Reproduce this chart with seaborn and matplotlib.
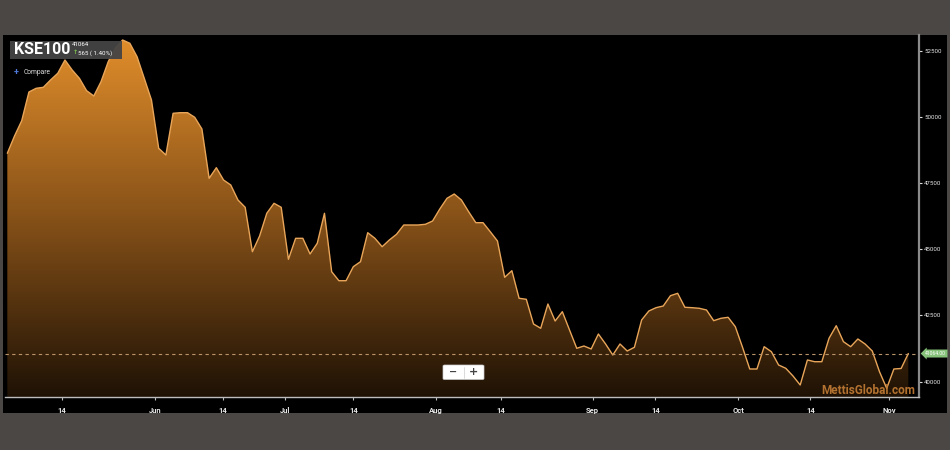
import numpy as np
import pandas as pd
import matplotlib
matplotlib.use("Agg")
import matplotlib.pyplot as plt
import seaborn as sns
from matplotlib.patches import Rectangle, FancyBboxPatch
from matplotlib.colors import LinearSegmentedColormap
import matplotlib.transforms as mtransforms

# ---- data (KSE100 daily closes, trading-day ordinal axis) ----
closes = [48626, 49279, 49857, 50941, 51080, 51118, 51394, 51647, 52149, 51771,
          51458, 50990, 50790, 51330, 52085, 52602, 52904, 52780, 52274, 51458,
          50638, 48814, 48561, 50136, 50159, 50159, 49985, 49543, 47681, 48082,
          47617, 47428, 46862, 46586, 44909, 45502, 46360, 46737, 46586, 44622,
          45415, 45415, 44823, 45227, 46360, 44154, 43814, 43814, 44343, 44532,
          45627, 45415, 45098, 45351, 45567, 45918, 45918, 45918, 45944, 46069,
          46522, 46926, 47088, 46862, 46420, 46005, 46005, 45665, 45314, 43943,
          44192, 43150, 43112, 42179, 42017, 42934, 42292, 42644, 41952, 41261,
          41348, 41235, 41801, 41424, 41008, 41424, 41159, 41299, 42330, 42670,
          42795, 42859, 43248, 43338, 42810, 42795, 42772, 42708, 42304, 42394,
          42432, 42077, 41299, 40480, 40480, 41322, 41133, 40631, 40506, 40215,
          39875, 40820, 40755, 40755, 41639, 42115, 41511, 41322, 41613, 41424,
          41159, 40378, 39751, 40480, 40499, 41064]
tick_pos = [7.6, 20.5, 29.9, 38.5, 48.0, 59.5, 68.5, 81.2, 89.9, 101.4, 111.4, 122.3]
tick_labels = ["14", "Jun", "14", "Jul", "14", "Aug", "14", "Sep", "14", "Oct", "14", "Nov"]
y_ticks = [40000, 42500, 45000, 47500, 50000, 52500]
last_value = 41064
change_text = "565 ( 1.40%)"
index_name = "KSE100"

df = pd.DataFrame({"idx": np.arange(len(closes)), "close": closes})

sns.set_theme(style="dark")
plt.rcParams['font.family'] = ['Roboto', 'DejaVu Sans']

W, H = 950, 450
fig = plt.figure(figsize=(W / 100, H / 100), dpi=100)
fig.patch.set_facecolor("#4a4744")

def fx(x):
    return x / W

def fy(y):
    return 1 - y / H

# black panel
fig.add_artist(Rectangle((fx(3), fy(413)), fx(947) - fx(3), fy(35) - fy(413),
                         transform=fig.transFigure, facecolor="black",
                         edgecolor="none", zorder=0))

ax = fig.add_axes([fx(5), fy(397), fx(918.7) - fx(5), fy(35) - fy(397)])
ax.set_facecolor("black")
xlim = (-0.32, 126.44)
ylim = (39422, 53093)
ax.set_xlim(*xlim)
ax.set_ylim(*ylim)

# gradient area
cmap = LinearSegmentedColormap.from_list(
    "kse", [(0.0, (0.12, 0.07, 0.02)), (0.5, (0.53, 0.32, 0.095)),
            (1.0, (0.89, 0.56, 0.17))])
grad = np.linspace(0, 1, 256).reshape(-1, 1)
im = ax.imshow(grad, extent=[xlim[0], xlim[1], ylim[0], ylim[1]], origin="lower",
               aspect="auto", cmap=cmap, zorder=1)
poly = ax.fill_between(df["idx"], df["close"], ylim[0], facecolor="none",
                       edgecolor="none")
im.set_clip_path(poly.get_paths()[0], transform=ax.transData)

sns.lineplot(data=df, x="idx", y="close", color="#e9a65a", lw=1.0, ax=ax, zorder=3)

# current value dashed line
ax.axhline(last_value, color="#b9936a", lw=0.8, ls=(0, (3, 3)), zorder=4)

ax.set_xlabel("")
ax.set_ylabel("")
ax.grid(False)
ax.set_xticks(tick_pos)
ax.set_xticklabels(tick_labels, fontsize=5.5, fontweight="bold", color="#e8e8e8")
ax.yaxis.tick_right()
ax.set_yticks(y_ticks)
ax.set_yticklabels([str(v) for v in y_ticks], fontsize=4.4, color="#e6e6e6")
ax.tick_params(axis="x", length=2.5, width=0.8, color="#bbbbbb", pad=5, bottom=True)
ax.tick_params(axis="y", length=2.5, width=0.8, color="#dddddd", pad=1.5, right=True, left=False)
for s in ["top", "left"]:
    ax.spines[s].set_visible(False)
ax.spines["right"].set_color("#8a8a8a")
ax.spines["right"].set_linewidth(1.6)
ax.spines["bottom"].set_color("#bdbdbd")
ax.spines["bottom"].set_linewidth(1.0)

# current value tag
trans = mtransforms.blended_transform_factory(ax.transAxes, ax.transData)
ax.text(1.007, last_value, f"{last_value:.2f}", transform=trans, fontsize=3.6,
        color="white", va="center", ha="left", clip_on=False, zorder=6,
        bbox=dict(boxstyle="larrow,pad=0.3", facecolor="#86c27a",
                  edgecolor="none"))

# title box
fig.add_artist(Rectangle((fx(9.5), fy(59)), fx(121.5) - fx(9.5), fy(41) - fy(59),
                         transform=fig.transFigure, facecolor="#444444",
                         edgecolor="none", alpha=0.95, zorder=8))
fig.text(fx(14), fy(50), index_name, fontsize=11.5, fontweight="bold",
         color="white", va="center", ha="left", zorder=9)
fig.text(fx(71.5), fy(44.5), f"{last_value}", fontsize=4.4, color="white",
         va="center", ha="left", zorder=9)
fig.text(fx(72.5), fy(53), "\u2191", fontsize=4.6, color="#7cc04f",
         fontweight="bold", va="center", ha="left", zorder=9,
         family=["DejaVu Sans"])
fig.text(fx(77.5), fy(53), change_text, fontsize=4.4, color="white",
         va="center", ha="left", zorder=9)
fig.text(fx(13.5), fy(72.5), "+", fontsize=6.5, color="#4f78d8",
         fontweight="bold", va="center", ha="left", zorder=9)
fig.text(fx(24), fy(72.5), "Compare", fontsize=4.8, color="#dddddd",
         va="center", ha="left", zorder=9)

# zoom buttons
fig.add_artist(FancyBboxPatch((fx(443), fy(379.5)), fx(484) - fx(443), fy(365) - fy(379.5),
                              boxstyle="round,pad=0,rounding_size=0.002",
                              transform=fig.transFigure, facecolor="white",
                              edgecolor="#cccccc", lw=0.5, zorder=8))
fig.add_artist(plt.Line2D([fx(464), fx(464)], [fy(367), fy(377.5)],
                          transform=fig.transFigure, color="#cccccc", lw=0.5, zorder=9))
fig.text(fx(453.5), fy(372), "\u2212", fontsize=7, color="#444444", fontweight="bold",
         ha="center", va="center", zorder=9, family=["DejaVu Sans"])
fig.text(fx(474), fy(372), "+", fontsize=8, color="#444444", fontweight="bold",
         ha="center", va="center", zorder=9, family=["DejaVu Sans"])

# watermark
fig.text(fx(915), fy(390), "MettisGlobal.com", fontsize=8.5, fontweight="bold",
         color="#bd7833", alpha=0.95, ha="right", va="center", zorder=9)

fig.savefig("out.png", dpi=100, facecolor=fig.get_facecolor())
